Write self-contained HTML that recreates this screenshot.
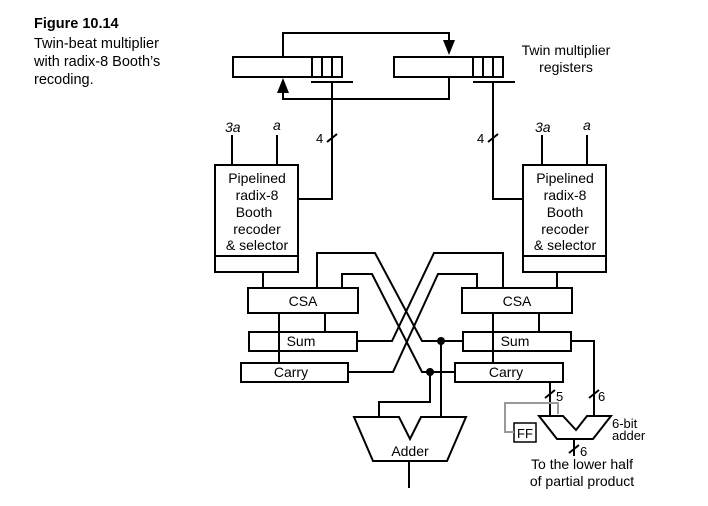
<!DOCTYPE html>
<html><head><style>
body{margin:0;background:#fff;}
svg{display:block;}
text{font-family:"Liberation Sans",Arial,sans-serif;fill:#000;}
</style></head><body>
<svg width="708" height="506" viewBox="0 0 708 506" xmlns="http://www.w3.org/2000/svg">
<g font-size="14.5">
<text x="34" y="28" font-weight="bold">Figure 10.14</text>
<text x="34" y="48">Twin-beat multiplier</text>
<text x="34" y="66">with radix-8 Booth’s</text>
<text x="34" y="84">recoding.</text>
</g>
<g font-size="14" text-anchor="middle">
<text x="566" y="55">Twin multiplier</text>
<text x="566" y="72">registers</text>
</g>
<g stroke="#000" stroke-width="2" fill="none">
<rect x="233" y="57" width="109" height="20" fill="#fff"/>
<line x1="312" y1="57" x2="312" y2="77"/><line x1="322" y1="57" x2="322" y2="77"/><line x1="332" y1="57" x2="332" y2="77"/>
<rect x="394" y="57" width="109" height="20" fill="#fff"/>
<line x1="473" y1="57" x2="473" y2="77"/><line x1="483" y1="57" x2="483" y2="77"/><line x1="493" y1="57" x2="493" y2="77"/>
<line x1="311" y1="82" x2="353" y2="82"/>
<line x1="473" y1="82" x2="515" y2="82"/>
<polyline points="283,57 283,33 449,33 449,45"/>
<polyline points="449,77 449,99 283,99 283,90"/>
<polyline points="332,82 332,199 298,199"/>
<polyline points="493,82 493,199 523,199"/>
<line x1="327" y1="142" x2="337" y2="134"/>
<line x1="488" y1="142" x2="498" y2="134"/>
<rect x="215" y="165" width="83" height="107"/>
<line x1="215" y1="256" x2="298" y2="256"/>
<rect x="523" y="165" width="83" height="107"/>
<line x1="523" y1="256" x2="606" y2="256"/>
<line x1="232" y1="135" x2="232" y2="165"/><line x1="277" y1="135" x2="277" y2="165"/>
<line x1="542" y1="135" x2="542" y2="165"/><line x1="587" y1="135" x2="587" y2="165"/>
<line x1="263" y1="272" x2="263" y2="288"/><line x1="557" y1="272" x2="557" y2="288"/>
<rect x="248" y="288" width="110" height="25"/>
<rect x="249" y="332" width="108" height="19"/>
<rect x="241" y="363" width="107" height="19"/>
<rect x="462" y="288" width="110" height="25"/>
<rect x="463" y="332" width="108" height="19"/>
<rect x="455" y="363" width="108" height="19"/>
<line x1="325" y1="313" x2="325" y2="332"/><line x1="279" y1="313" x2="279" y2="363"/>
<line x1="539" y1="313" x2="539" y2="332"/><line x1="493" y1="313" x2="493" y2="363"/>
<polyline points="317,288 317,253 375,253 422,341 463,341"/>
<polyline points="342,288 342,274 372,274 422,372 455,372"/>
<polyline points="357,341 392,341 434,253 503,253 503,288"/>
<polyline points="348,372 393,372 438,274 477,274 477,288"/>
<line x1="441" y1="341" x2="441" y2="417"/>
<polyline points="430,372 430,402 379,402 379,417"/>
<polygon points="354,417 399,417 410,439 421,417 466,417 447,461 373,461" fill="#fff"/>
<line x1="409" y1="461" x2="409" y2="488"/>
<polyline points="571,341 594,341 594,416"/>
<line x1="550" y1="382" x2="550" y2="416"/>
<line x1="545" y1="398" x2="555" y2="390"/>
<line x1="589" y1="398" x2="599" y2="390"/>
<polygon points="539,416 563,416 576,430 587,416 611,416 593,439 557,439" fill="#fff"/>
<line x1="574" y1="439" x2="574" y2="456"/>
<line x1="569" y1="453" x2="579" y2="445"/>
<rect x="514" y="423" width="22" height="19" stroke-width="1.5" fill="#fff"/>
</g>
<polyline points="514,432 505,432 505,403 558,403 558,414" stroke="#999" stroke-width="2" fill="none"/>
<polygon points="443,40 455,40 449,55" fill="#000"/>
<polygon points="277,93 289,93 283,78" fill="#000"/>
<circle cx="441" cy="341" r="4" fill="#000"/>
<circle cx="430" cy="372" r="4" fill="#000"/>
<g font-size="13">
<text x="316" y="143">4</text>
<text x="477" y="143">4</text>
<text x="225" y="132" font-style="italic" font-size="14">3a</text>
<text x="273" y="130" font-style="italic" font-size="14">a</text>
<text x="535" y="132" font-style="italic" font-size="14">3a</text>
<text x="583" y="130" font-style="italic" font-size="14">a</text>
<text x="556" y="401">5</text>
<text x="598" y="401">6</text>
<text x="580" y="456">6</text>
<text x="525" y="438" text-anchor="middle">FF</text>
<text x="612" y="428">6-bit</text>
<text x="612" y="440">adder</text>
</g>
<g font-size="14" text-anchor="middle">
<text x="257" y="183">Pipelined</text>
<text x="257" y="200">radix-8</text>
<text x="254" y="217">Booth</text>
<text x="257" y="234">recoder</text>
<text x="257" y="250">&amp; selector</text>
<text x="565" y="183">Pipelined</text>
<text x="565" y="200">radix-8</text>
<text x="565" y="217">Booth</text>
<text x="565" y="234">recoder</text>
<text x="565" y="250">&amp; selector</text>
<text x="303" y="306">CSA</text>
<text x="301" y="346">Sum</text>
<text x="291" y="377">Carry</text>
<text x="517" y="306">CSA</text>
<text x="515" y="346">Sum</text>
<text x="506" y="377">Carry</text>
<text x="410" y="456">Adder</text>
<text x="582" y="469">To the lower half</text>
<text x="582" y="486">of partial product</text>
</g>
</svg>
</body></html>
